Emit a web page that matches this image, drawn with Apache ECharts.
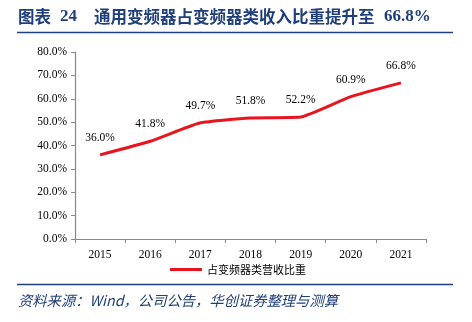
<!DOCTYPE html>
<html><head><meta charset="utf-8">
<script src="https://cdn.jsdelivr.net/npm/echarts@6/dist/echarts.min.js"></script>
<style>html,body{margin:0;padding:0;background:#fff}#c{width:472px;height:322px}</style>
</head><body><div id="c"></div>
<script>
const years = ['2015','2016','2017','2018','2019','2020','2021'];
const share = [36.0, 41.8, 49.7, 51.8, 52.2, 60.9, 66.8];
const seriesName = '占变频器类营收比重';
const titleLabel = '图表';
const titleNum = '24';
const titleMain = '通用变频器占变频器类收入比重提升至';
const titleValue = '66.8%';
const sourceText = '资料来源：Wind，公司公告，华创证券整理与测算';

const chart = echarts.init(document.getElementById('c'));
const navy = '#1F3F7A';
const tfont = {fontFamily: 'Noto Sans CJK SC', fontSize: 16.5, fontWeight: 'bold', fill: navy};
chart.setOption({
  animation: false,
  legend: {
    data: [seriesName], bottom: 42, left: 165, itemWidth: 32, itemHeight: 3,
    icon: 'rect', itemGap: 5,
    textStyle: {fontFamily: 'Noto Sans CJK SC', fontSize: 11, color: '#000'}
  },
  grid: {left: 75, right: 46, top: 52, bottom: 83},
  xAxis: {
    type: 'category', data: years, boundaryGap: true,
    axisLine: {lineStyle: {color: '#888', width: 1.2}},
    axisTick: {show: true, inside: false, length: 4, lineStyle: {color: '#888'}},
    axisLabel: {fontFamily: 'Liberation Serif', fontSize: 11.5, color: '#000', margin: 10}
  },
  yAxis: {
    type: 'value', min: 0, max: 80, interval: 10,
    axisLine: {show: true, lineStyle: {color: '#888', width: 1.2}},
    axisTick: {show: true, length: 4, lineStyle: {color: '#888'}},
    splitLine: {show: false},
    axisLabel: {fontFamily: 'Liberation Serif', fontSize: 11.5, color: '#000', margin: 8,
      formatter: v => v.toFixed(1) + '%'}
  },
  series: [{
    name: seriesName, type: 'line', data: share, smooth: 0.15,
    symbol: 'circle', symbolSize: 0, showSymbol: true,
    lineStyle: {color: '#E8141E', width: 3}, itemStyle: {color: '#E8141E'},
    label: {show: true, position: 'top', distance: 11, fontFamily: 'Liberation Serif', fontSize: 11.5, color: '#000',
      formatter: p => p.value.toFixed(1) + '%'}
  }],
  graphic: [
    {type: 'text', left: 18, top: 8, style: Object.assign({text: titleLabel}, tfont)},
    {type: 'text', left: 60, top: 8, style: Object.assign({text: titleNum}, tfont, {fontFamily: 'Liberation Serif', fontSize: 17})},
    {type: 'text', left: 94, top: 8, style: Object.assign({text: titleMain}, tfont)},
    {type: 'text', left: 384, top: 8, style: Object.assign({text: titleValue}, tfont, {fontFamily: 'Liberation Serif', fontSize: 17})},
    {type: 'line', shape: {x1: 17, y1: 32.5, x2: 453, y2: 32.5}, style: {stroke: navy, lineWidth: 1.5}},
    {type: 'line', shape: {x1: 17, y1: 284.5, x2: 453, y2: 284.5}, style: {stroke: navy, lineWidth: 1.5}},
    {type: 'text', left: 18, top: 293, style: {text: sourceText, fontFamily: 'Noto Sans CJK SC', fontSize: 14.3, fontStyle: 'italic', fill: navy}}
  ]
});
</script></body></html>
